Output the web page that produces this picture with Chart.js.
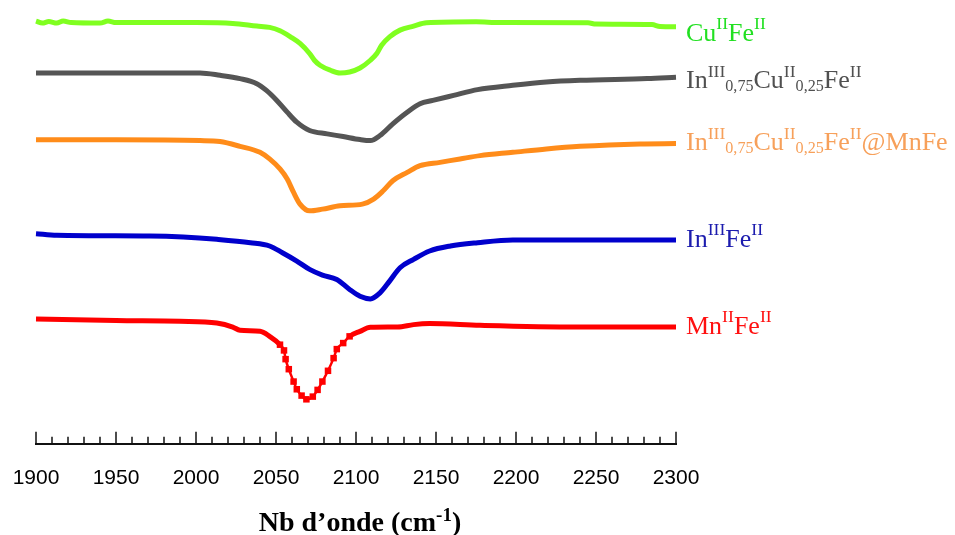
<!DOCTYPE html>
<html>
<head>
<meta charset="utf-8">
<script src="https://cdn.jsdelivr.net/npm/chart.js@4.4.0/dist/chart.umd.min.js"></script>
<style>
  html, body { margin: 0; padding: 0; background: #fff; }
</style>
</head>
<body>
<canvas id="myChart" width="955" height="535"></canvas>
<script>
// wavenumber (cm-1) / offset transmittance (a.u.)
const cuFeX = [1900, 1904, 1908, 1913, 1917, 1922, 1940, 1945, 1950, 2000, 2023, 2038, 2046, 2052.5, 2059, 2065, 2071, 2074, 2077.5, 2084, 2090, 2096, 2102.5, 2109, 2113, 2116, 2121, 2127.5, 2136, 2144, 2175, 2190, 2245, 2250, 2285, 2290, 2300];
const cuFeY = [42.1, 41.9, 42.05, 41.9, 42.1, 41.95, 41.9, 42.1, 41.95, 41.95, 41.87, 41.6, 41.47, 41.13, 40.53, 39.87, 38.87, 38.2, 37.7, 37.2, 36.93, 37.03, 37.43, 38.2, 38.87, 39.7, 40.53, 41.2, 41.6, 41.93, 42.03, 41.95, 41.93, 41.8, 41.75, 41.55, 41.53];

const inCuFeX = [1900, 1950, 2002.5, 2015, 2027.5, 2038, 2044, 2050.5, 2057, 2063, 2071, 2082, 2092, 2102.5, 2109, 2115, 2123, 2132, 2140, 2148, 2161, 2176, 2198, 2219, 2240, 2282, 2300];
const inCuFeY = [36.93, 36.93, 36.93, 36.7, 36.37, 35.87, 35.2, 34.2, 33.03, 32.03, 31.2, 30.87, 30.6, 30.3, 30.2, 30.7, 31.87, 33.03, 33.87, 34.2, 34.7, 35.27, 35.7, 36.03, 36.2, 36.37, 36.5];

const inCuMnX = [1900, 1950, 2002.5, 2015, 2027.5, 2040, 2046, 2052.5, 2057, 2061, 2065, 2071, 2079, 2090, 2104, 2111, 2117, 2123, 2132, 2140, 2152.5, 2165, 2177.5, 2198, 2219, 2240, 2277.5, 2300];
const inCuMnY = [30.27, 30.27, 30.2, 30.1, 29.63, 29.03, 28.37, 27.37, 26.37, 25.03, 23.87, 23.2, 23.37, 23.7, 23.87, 24.37, 25.2, 26.2, 27.03, 27.7, 28.03, 28.37, 28.7, 29.03, 29.37, 29.63, 29.87, 29.9];

const inFeX = [1900, 1913, 1971, 1992, 2013, 2034, 2046, 2054, 2063, 2071, 2079, 2088, 2096, 2102.5, 2109, 2115, 2121, 2127.5, 2136, 2146, 2159, 2176, 2198, 2300];
const inFeY = [20.93, 20.77, 20.7, 20.6, 20.37, 20.03, 19.7, 19.03, 18.2, 17.37, 16.8, 16.37, 15.37, 14.7, 14.43, 15.03, 16.2, 17.53, 18.37, 19.2, 19.7, 20.03, 20.3, 20.3];

const mnFeX = [1900, 1950, 1990, 2013, 2023, 2027.5, 2040, 2046, 2052.5, 2055, 2056, 2058, 2061, 2063, 2066, 2069, 2073, 2076, 2079, 2082.5, 2086, 2088, 2092, 2096, 2102.5, 2109, 2126, 2136, 2146, 2177.5, 2238, 2300];
const mnFeY = [12.43, 12.27, 12.2, 12.03, 11.63, 11.3, 11.2, 10.7, 9.87, 9.3, 8.43, 7.43, 6.2, 5.43, 4.8, 4.43, 4.7, 5.37, 6.2, 7.27, 8.53, 9.43, 10.03, 10.7, 11.2, 11.6, 11.63, 11.87, 11.97, 11.8, 11.63, 11.63];

// labels, as [text, 'sup' | 'sub' | '']
const cuFeName = [['Cu', ''], ['II', 'sup'], ['Fe', ''], ['II', 'sup']];
const inCuFeName = [['In', ''], ['III', 'sup'], ['0,75', 'sub'], ['Cu', ''], ['II', 'sup'], ['0,25', 'sub'], ['Fe', ''], ['II', 'sup']];
const inCuMnName = [['In', ''], ['III', 'sup'], ['0,75', 'sub'], ['Cu', ''], ['II', 'sup'], ['0,25', 'sub'], ['Fe', ''], ['II', 'sup'], ['@MnFe', '']];
const inFeName = [['In', ''], ['III', 'sup'], ['Fe', ''], ['II', 'sup']];
const mnFeName = [['Mn', ''], ['II', 'sup'], ['Fe', ''], ['II', 'sup']];
const xTitle = [['Nb d\u2019onde (cm', ''], ['-1', 'sup'], [')', '']];

const xMin = 1900, xMax = 2300, majorStep = 50, minorStep = 10;

const series = [
    { name: cuFeName, x: cuFeX, y: cuFeY, line: '#80ff20', text: '#22e022', dy: 7 },
    { name: inCuFeName, x: inCuFeX, y: inCuFeY, line: '#555555', text: '#505050', dy: 4 },
    { name: inCuMnName, x: inCuMnX, y: inCuMnY, line: '#ff8c1a', text: '#f7a05a', dy: 0 },
    { name: inFeName, x: inFeX, y: inFeY, line: '#0000cc', text: '#1c1cae', dy: 0 },
    { name: mnFeName, x: mnFeX, y: mnFeY, line: '#ff0000', text: '#ff1010', dy: 0, markers: [2052, 2096] },
];

function drawRich(ctx, parts, x, y, size, family, bold, dry) {
    let cx = x;
    parts.forEach(([t, kind]) => {
        let s = size, off = 0;
        if (kind === 'sup') { s = size * 0.68; off = -size * 0.36; }
        if (kind === 'sub') { s = size * 0.62; off = size * 0.2; }
        ctx.font = (bold ? 'bold ' : '') + s + 'px ' + family;
        if (!dry) ctx.fillText(t, cx, y + off);
        cx += ctx.measureText(t).width;
    });
    return cx - x;
}

const decorations = {
    id: 'decorations',
    afterDraw(chart) {
        const { ctx, chartArea, scales } = chart;
        const x = scales.x, y = scales.y;
        ctx.save();
        // inward tick marks
        ctx.strokeStyle = '#111';
        ctx.lineWidth = 1.5;
        for (let v = xMin; v <= xMax; v += minorStep) {
            const px = Math.round(x.getPixelForValue(v));
            const len = v % majorStep === 0 ? 12 : 7;
            ctx.beginPath();
            ctx.moveTo(px, chartArea.bottom);
            ctx.lineTo(px, chartArea.bottom - len);
            ctx.stroke();
        }
        // series names at the right end of each curve
        ctx.textBaseline = 'middle';
        ctx.textAlign = 'left';
        const serif = '"Liberation Serif", "Times New Roman", serif';
        series.forEach(s => {
            const last = s.y[s.y.length - 1];
            const py = y.getPixelForValue(last) + s.dy;
            ctx.fillStyle = s.text;
            drawRich(ctx, s.name, chartArea.right + 10, py, 26, serif, false);
        });
        // axis title
        ctx.fillStyle = '#000';
        ctx.textBaseline = 'alphabetic';
        const w = drawRich(ctx, xTitle, 0, 0, 28, serif, true, true);
        const cx = (chartArea.left + chartArea.right) / 2;
        drawRich(ctx, xTitle, cx - w / 2 + 4, chartArea.bottom + 87, 28, serif, true);
        ctx.restore();
    }
};

const inRange = (v, r) => r && v >= r[0] && v <= r[1];

const datasets = series.map(s => ({
    data: s.x.map((v, i) => ({ x: v, y: s.y[i] })),
    borderColor: s.line,
    backgroundColor: s.line,
    borderWidth: 5,
    pointStyle: 'rect',
    pointBorderWidth: 0,
    pointRadius: c => inRange(c.raw && c.raw.x, s.markers) ? 4.6 : 0,
    segment: {
        borderWidth: c => inRange(c.p0.parsed.x, s.markers) && inRange(c.p1.parsed.x, s.markers) ? 2.5 : 5,
    },
    fill: false,
    cubicInterpolationMode: 'monotone',
    clip: false,
}));

const ctx = document.getElementById('myChart').getContext('2d');
const myChart = new Chart(ctx, {
    type: 'line',
    data: { datasets: datasets },
    options: {
        responsive: false,
        animation: false,
        layout: { padding: { left: 36, right: 279, top: 0, bottom: 22 } },
        plugins: { legend: { display: false }, tooltip: { enabled: false } },
        scales: {
            x: {
                type: 'linear',
                min: xMin,
                max: xMax,
                afterFit: scale => { scale.paddingLeft = 0; scale.paddingRight = 0; },
                grid: { display: false, drawTicks: false },
                border: { display: true, color: '#111', width: 2 },
                ticks: {
                    stepSize: majorStep,
                    padding: 22,
                    color: '#000',
                    maxRotation: 0,
                    callback: v => String(v),
                    font: { family: '"Liberation Sans", Arial, sans-serif', size: 21 },
                },
            },
            y: { display: false, min: 0, max: 44.2 },
        },
    },
    plugins: [decorations],
});
</script>
</body>
</html>
